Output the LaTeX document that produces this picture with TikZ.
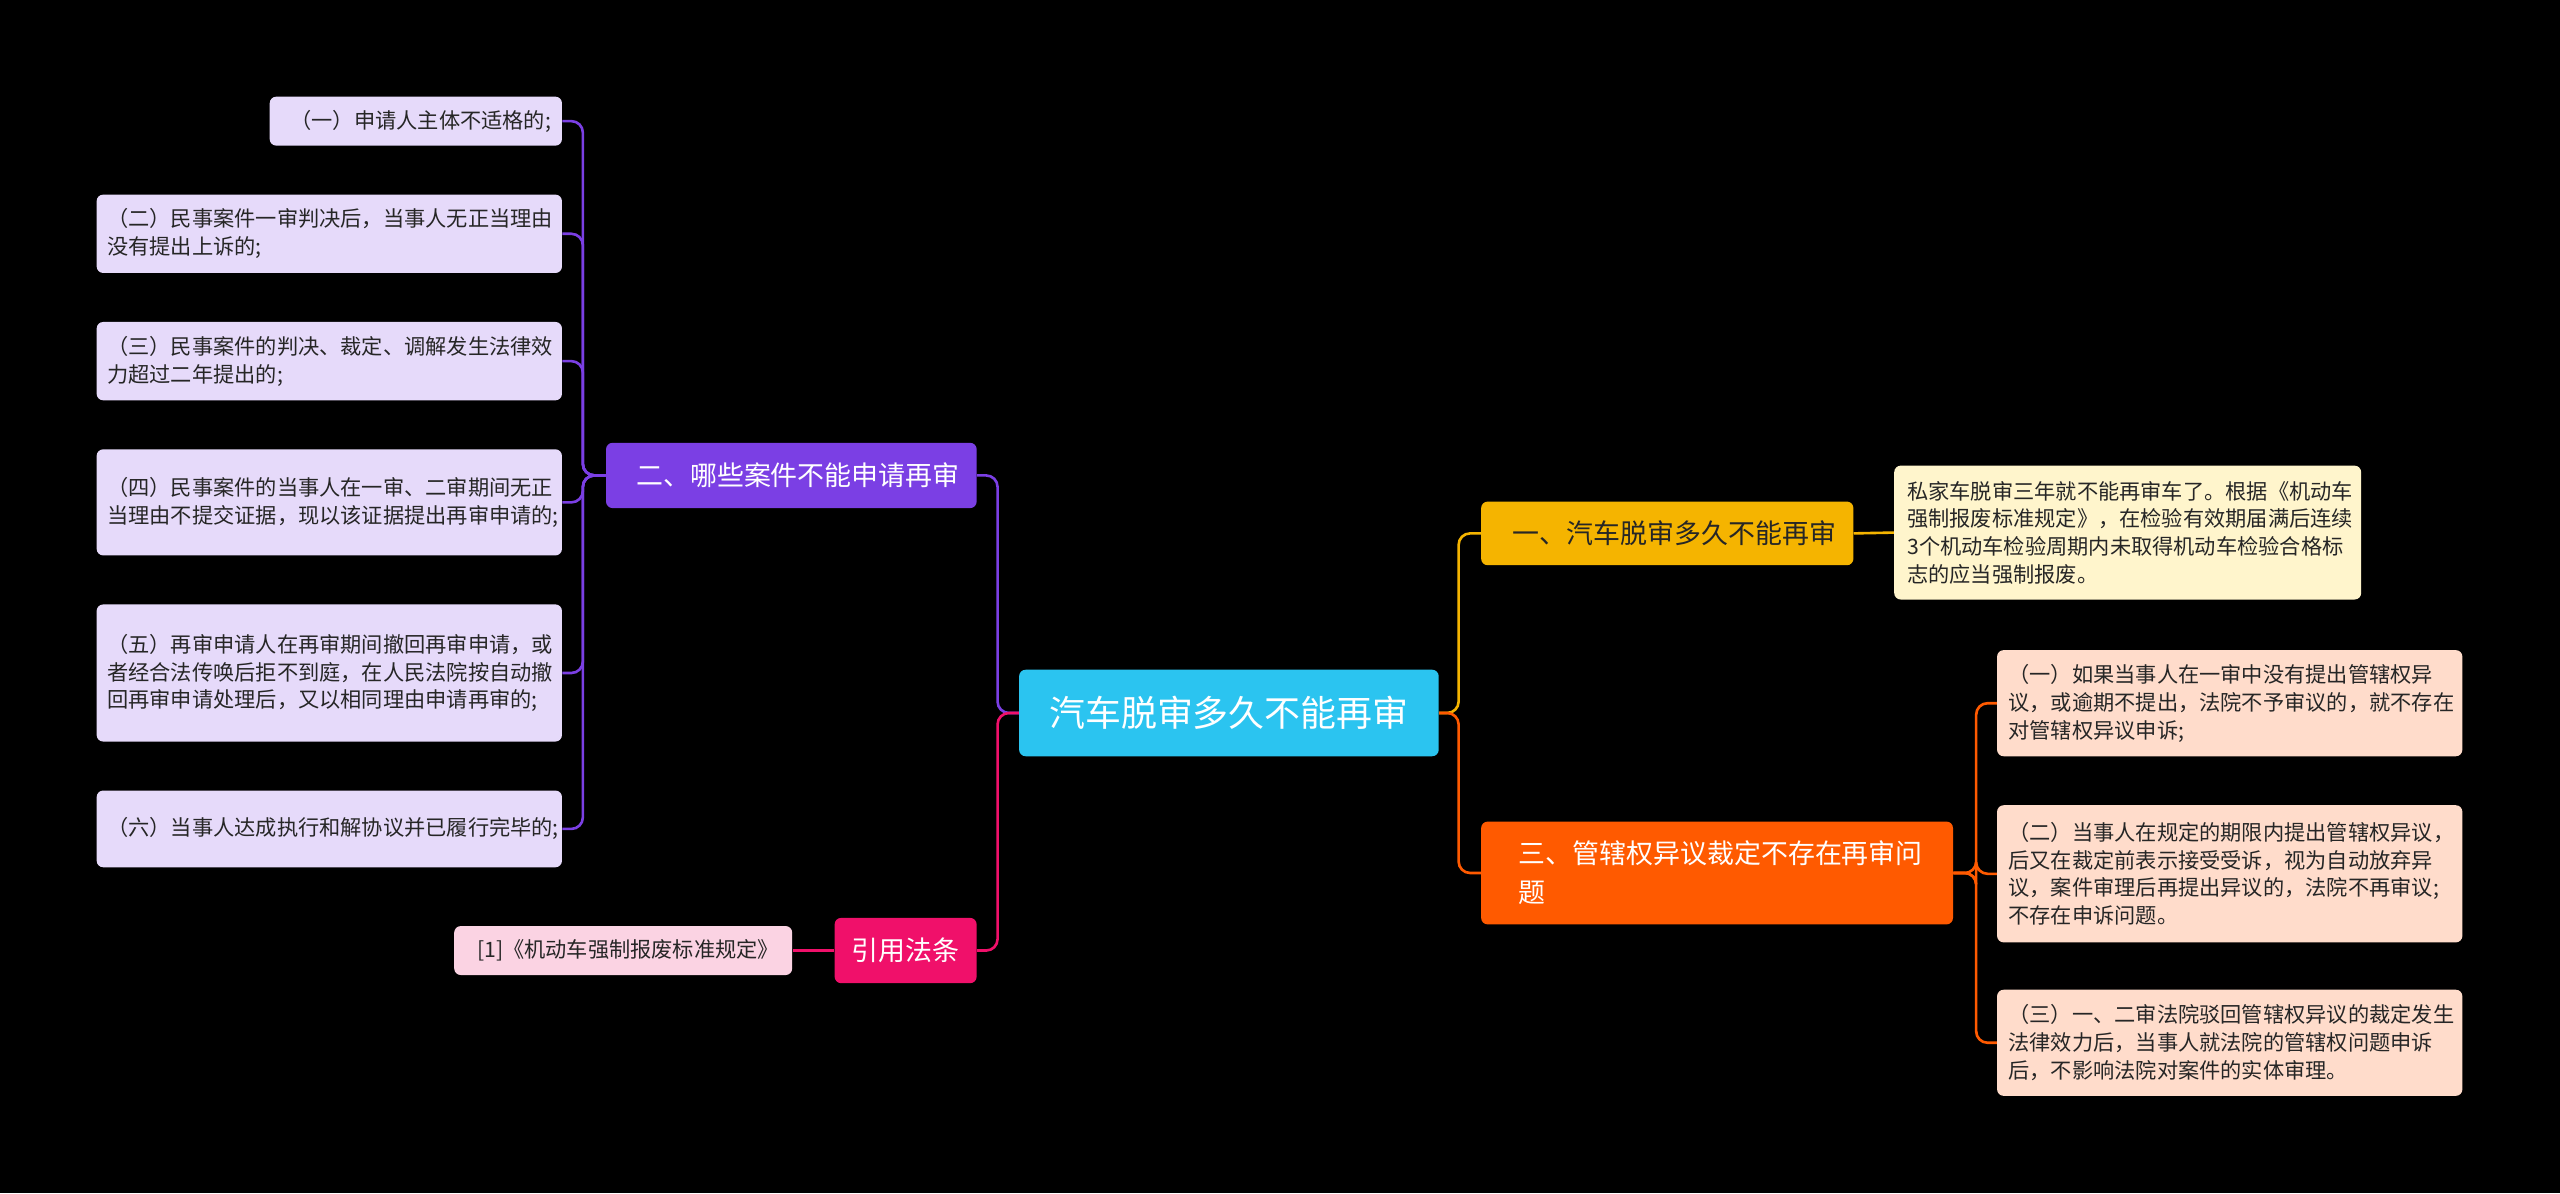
\documentclass[tikz,border=0pt]{standalone}
\usepackage{fontspec}
\setmainfont{Noto Sans CJK SC}
\XeTeXlinebreaklocale "zh"
\XeTeXlinebreakskip=0pt plus 1pt
\begin{document}
\begin{tikzpicture}[x=1pt,y=-1pt,
 box/.style={anchor=north west,rounded corners=4pt,inner sep=0pt,align=left},
 leaf/.style={box,font=\fontsize{13}{17}\selectfont,text=black!85},
 br/.style={box,font=\fontsize{16.5}{24}\selectfont,text=white},
 ln/.style={line width=1.6pt,rounded corners=7pt}]
\fill[black] (0,0) rectangle (1568,731);
\useasboundingbox (0,0) rectangle (1568,731);
\definecolor{cy}{HTML}{2BC4F0}\definecolor{yl}{HTML}{F5B400}\definecolor{ylp}{HTML}{FFF5CC}
\definecolor{og}{HTML}{FF5A00}\definecolor{ogp}{HTML}{FFDCCB}\definecolor{pu}{HTML}{7B3FE4}
\definecolor{pup}{HTML}{E6DAFA}\definecolor{pk}{HTML}{F0106A}\definecolor{pkp}{HTML}{FBD3E3}
\newcommand{\pb}[2]{\parbox{#1pt}{\raggedright #2}}
\node[box,fill=cy,minimum width=257,minimum height=53,align=center,text=white,font=\fontsize{22}{28}\selectfont] (c) at (624,410) {汽车脱审多久不能再审};
\node[br,fill=yl,minimum width=228,minimum height=39,text=black!85] (b1) at (907,307) {\hspace*{9pt}一、汽车脱审多久不能再审};
\node[leaf,fill=ylp,minimum width=286,minimum height=82] (y1) at (1160,285) {\hspace*{6pt}\pb{276}{私家车脱审三年就不能再审车了。根据《机动车强制报废标准规定》，在检验有效期届满后连续3个机动车检验周期内未取得机动车检验合格标志的应当强制报废。}};
\node[br,fill=og,minimum width=289,minimum height=63] (b3) at (907,503) {\hspace*{9pt}\pb{252}{三、管辖权异议裁定不存在再审问题}};
\node[leaf,fill=ogp,minimum width=285,minimum height=65] (r1) at (1223,398) {\hspace*{5pt}\pb{276}{（一）如果当事人在一审中没有提出管辖权异议，或逾期不提出，法院不予审议的，就不存在对管辖权异议申诉;}};
\node[leaf,fill=ogp,minimum width=285,minimum height=84] (r2) at (1223,493) {\hspace*{5pt}\pb{276}{（二）当事人在规定的期限内提出管辖权异议，后又在裁定前表示接受受诉，视为自动放弃异议，案件审理后再提出异议的，法院不再审议;不存在申诉问题。}};
\node[leaf,fill=ogp,minimum width=285,minimum height=65] (r3) at (1223,606) {\hspace*{5pt}\pb{276}{（三）一、二审法院驳回管辖权异议的裁定发生法律效力后，当事人就法院的管辖权问题申诉后，不影响法院对案件的实体审理。}};
\node[br,fill=pu,minimum width=227,minimum height=40] (b2) at (371,271) {\hspace*{8pt}二、哪些案件不能申请再审};
\node[leaf,fill=pup,minimum width=179,minimum height=30] (l1) at (165,59) {\hspace*{6pt}（一）申请人主体不适格的;};
\node[leaf,fill=pup,minimum width=285,minimum height=48] (l2) at (59,119) {\hspace*{5pt}\pb{277}{（二）民事案件一审判决后，当事人无正当理由没有提出上诉的;}};
\node[leaf,fill=pup,minimum width=285,minimum height=48] (l3) at (59,197) {\hspace*{5pt}\pb{277}{（三）民事案件的判决、裁定、调解发生法律效力超过二年提出的;}};
\node[leaf,fill=pup,minimum width=285,minimum height=65] (l4) at (59,275) {\hspace*{5pt}\pb{277}{（四）民事案件的当事人在一审、二审期间无正当理由不提交证据，现以该证据提出再审申请的;}};
\node[leaf,fill=pup,minimum width=285,minimum height=84] (l5) at (59,370) {\hspace*{5pt}\pb{277}{（五）再审申请人在再审期间撤回再审申请，或者经合法传唤后拒不到庭，在人民法院按自动撤回再审申请处理后，又以相同理由申请再审的;}};
\node[leaf,fill=pup,minimum width=285,minimum height=47] (l6) at (59,484) {\hspace*{5pt}\pb{277}{（六）当事人达成执行和解协议并已履行完毕的;}};
\node[br,fill=pk,minimum width=87,minimum height=40,align=center] (b4) at (511,562) {\hspace*{8pt}引用法条\hspace*{8pt}};
\node[leaf,fill=pkp,minimum width=207,minimum height=30] (k1) at (278,567) {\hspace*{6pt}[1]《机动车强制报废标准规定》};
\draw[ln,yl] (c.east) -- ++(12,0) |- (b1.west);
\draw[ln,og] (c.east) -- ++(12,0) |- (b3.west);
\draw[ln,pu] (c.west) -- ++(-13,0) |- (b2.east);
\draw[ln,pk] (c.west) -- ++(-13,0) |- (b4.east);
\draw[ln,yl] (b1.east) -- (y1.west);
\foreach \n in {r1,r2,r3} \draw[ln,og] (b3.east) -- ++(14,0) |- (\n.west);
\foreach \n in {l1,l2,l3,l4,l5,l6} \draw[ln,pu] (b2.west) -- ++(-14,0) |- (\n.east);
\draw[ln,pk] (b4.west) -- (k1.east);
\end{tikzpicture}
\end{document}
